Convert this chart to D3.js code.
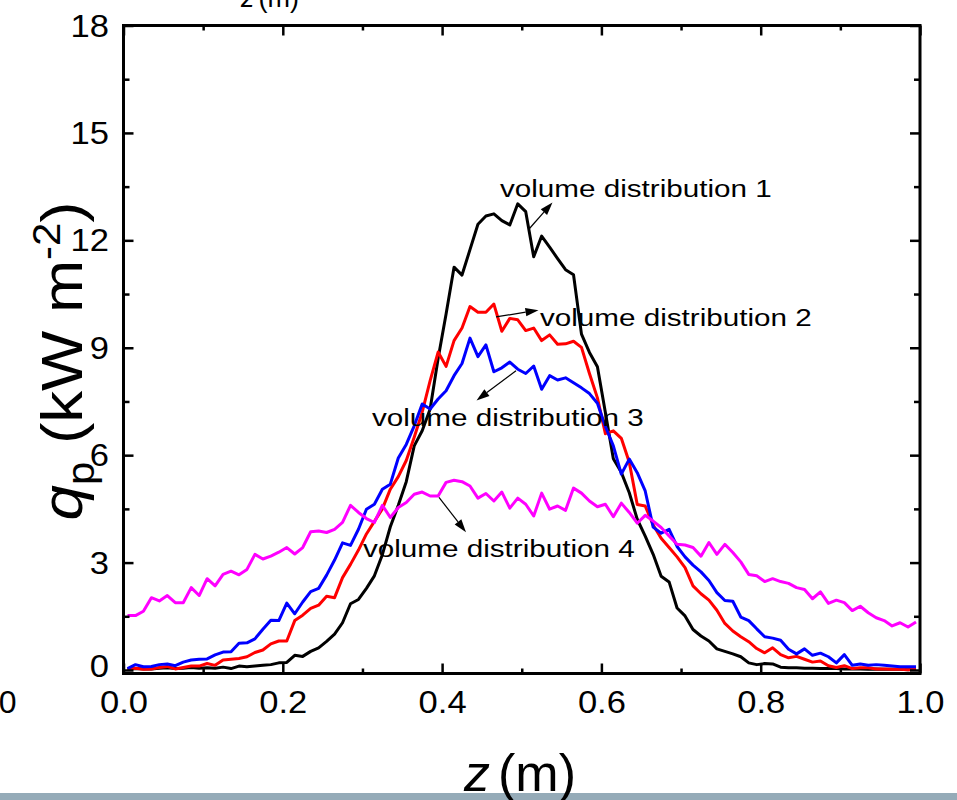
<!DOCTYPE html>
<html>
<head>
<meta charset="utf-8">
<script src="https://cdn.jsdelivr.net/npm/d3@7/dist/d3.min.js"></script>
<style>
  html, body { margin: 0; padding: 0; background: #ffffff; }
  svg { display: block; font-family: Arial, "Liberation Sans", Helvetica, sans-serif; }
</style>
</head>
<body>
<svg id="chart" width="957" height="800"></svg>
<script>
// Heat-flux profiles q_p along z for four volume distributions (0.01 m bins)
const zBins = d3.range(100).map(i => 0.005 + i * 0.01);

const dist1 = [0.02,0.04,0.03,0.03,0.05,0.06,0.04,0.05,0.07,0.05,
  0.06,0.05,0.08,0.04,0.11,0.09,0.11,0.13,0.15,0.20,
  0.21,0.41,0.38,0.52,0.62,0.80,1.00,1.32,1.85,1.97,
  2.28,2.63,3.22,4.00,4.60,5.26,6.26,6.68,7.29,8.70,
  9.94,11.25,11.03,11.74,12.45,12.68,12.74,12.55,12.43,13.02,
  12.80,11.54,12.12,11.81,11.49,11.18,11.04,9.38,8.87,8.47,
  7.19,5.90,5.52,4.95,4.21,3.74,3.23,2.62,2.46,1.73,
  1.51,1.13,0.95,0.81,0.59,0.52,0.45,0.37,0.20,0.15,
  0.18,0.17,0.08,0.06,0.06,0.05,0.05,0.04,0.04,0.04,
  0.03,0.03,0.03,0.02,0.03,0.02,0.02,0.02,0.01,0.02];

const dist2 = [0.02,0.05,0.02,0.03,0.07,0.10,0.03,0.07,0.11,0.11,
  0.18,0.13,0.28,0.30,0.32,0.37,0.49,0.56,0.73,0.81,
  0.81,1.38,1.53,1.72,1.81,2.06,2.02,2.58,2.95,3.35,
  3.80,4.15,4.50,5.05,5.40,5.85,6.50,7.20,8.08,8.88,
  8.48,9.20,9.55,10.15,9.99,9.99,10.22,9.46,9.82,9.78,
  9.48,9.55,9.20,9.36,9.10,9.11,9.18,9.01,8.28,7.60,
  6.60,6.68,6.47,5.80,4.62,4.58,4.05,3.68,3.42,3.16,
  2.86,2.35,2.13,1.95,1.67,1.30,1.09,0.93,0.79,0.60,
  0.48,0.62,0.43,0.34,0.38,0.30,0.22,0.25,0.12,0.07,
  0.12,0.04,0.06,0.06,0.03,0.03,0.02,0.02,0.01,0.02];

const dist3 = [0.04,0.15,0.09,0.10,0.15,0.17,0.12,0.22,0.28,0.30,
  0.31,0.42,0.50,0.51,0.75,0.76,0.87,1.14,1.39,1.38,
  1.87,1.57,1.90,2.19,2.28,2.65,3.07,3.55,3.48,3.93,
  4.49,4.63,5.05,5.19,5.92,6.30,6.82,7.43,7.29,7.57,
  7.80,8.22,8.56,9.27,8.75,9.08,8.33,8.44,8.60,8.40,
  8.28,8.49,7.84,8.22,8.10,8.16,8.02,7.88,7.72,7.45,
  6.80,6.26,5.47,5.89,5.51,5.00,3.99,3.82,3.93,3.45,
  3.16,2.93,2.74,2.50,2.16,1.94,1.92,1.48,1.38,1.15,
  0.93,0.89,0.83,0.58,0.45,0.59,0.41,0.47,0.37,0.20,
  0.43,0.13,0.17,0.13,0.15,0.13,0.11,0.09,0.09,0.09];

const dist4 = [1.52,1.52,1.64,2.02,1.93,2.08,1.88,1.88,2.30,2.08,
  2.55,2.35,2.67,2.76,2.66,2.81,3.23,3.10,3.18,3.29,
  3.42,3.24,3.42,3.86,3.88,3.84,3.93,4.12,4.60,4.40,
  4.23,4.12,4.60,4.26,4.54,4.68,4.91,4.97,4.86,4.86,
  5.24,5.30,5.26,5.14,4.80,4.93,4.72,4.97,4.52,4.80,
  4.63,4.30,4.94,4.49,4.58,4.46,5.08,4.94,4.72,4.56,
  4.63,4.28,4.66,4.40,4.10,4.32,4.16,3.98,3.74,3.51,
  3.49,3.42,3.18,3.56,3.23,3.51,3.28,3.02,2.67,2.63,
  2.47,2.55,2.47,2.42,2.30,2.25,1.99,2.18,1.86,1.95,
  1.88,1.66,1.78,1.60,1.46,1.38,1.23,1.32,1.20,1.34];

const seriesNames = ["volume distribution 1", "volume distribution 2",
                     "volume distribution 3", "volume distribution 4"];
const seriesColors = ["#000000", "#ff0000", "#0000ff", "#ff00ff"];

const xMajorTicks = [0, 0.2, 0.4, 0.6, 0.8, 1.0];
const xMinorTicks = [0.1, 0.3, 0.5, 0.7, 0.9];
const yMajorTicks = [0, 3, 6, 9, 12, 15, 18];
const yMinorTicks = [1.5, 4.5, 7.5, 10.5, 13.5, 16.5];

// Label anchors (text start + arrow tail -> arrow head), in data units
const labelPos = [
  { tz: 0.4727, tq: 13.22, az0: 0.5097, aq0: 12.33, az1: 0.5386, aq1: 13.06 },
  { tz: 0.5229, tq: 9.61,  az0: 0.4677, aq0: 9.86,  az1: 0.5210, aq1: 10.05 },
  { tz: 0.3120, tq: 6.81,  az0: 0.4928, aq0: 8.36,  az1: 0.4432, aq1: 7.53 },
  { tz: 0.3007, tq: 3.16,  az0: 0.3961, aq0: 4.82,  az1: 0.4300, aq1: 3.85 }
];

const svg = d3.select("#chart");
const frameLeft = 123.5, frameRight = 920, frameTop = 25.5, frameBottom = 673.5;

const x = d3.scaleLinear().domain([0, 1]).range([frameLeft, frameRight]);
const y = d3.scaleLinear().domain([0, 18]).range([670, frameTop]);

// strip along the bottom edge
svg.append("rect").attr("x", 0).attr("y", 793).attr("width", 957).attr("height", 7)
  .attr("fill", "#95abb8");

// data lines
const line = d3.line().x((d, i) => x(zBins[i])).y(d => y(d));
[dist1, dist2, dist3, dist4].forEach((s, i) => {
  svg.append("path").datum(s)
    .attr("d", line)
    .attr("fill", "none")
    .attr("stroke", seriesColors[i])
    .attr("stroke-width", 3)
    .attr("stroke-linejoin", "round");
});

// axes: inward ticks on all four sides
function styleAxis(g) {
  g.select(".domain").remove();
  g.selectAll(".tick line").attr("stroke", "#000").attr("stroke-width", 2.5);
}
const tickFont = 32;

const gBottom = svg.append("g").attr("transform", `translate(0,${frameBottom})`)
  .call(d3.axisBottom(x).tickValues(xMajorTicks).tickSize(-10).tickPadding(17)
    .tickFormat(d3.format(".1f")));
styleAxis(gBottom);
gBottom.selectAll("text").attr("font-size", tickFont).attr("fill", "#000")
  .attr("font-family", "Arial, 'Liberation Sans', sans-serif")
  .attr("transform", "scale(1.08,1)");

svg.append("g").attr("transform", `translate(0,${frameBottom})`)
  .call(d3.axisBottom(x).tickValues(xMinorTicks).tickSize(-5).tickFormat(""))
  .call(styleAxis);

svg.append("g").attr("transform", `translate(0,${frameTop})`)
  .call(d3.axisTop(x).tickValues(xMajorTicks).tickSize(-10).tickFormat(""))
  .call(styleAxis);
svg.append("g").attr("transform", `translate(0,${frameTop})`)
  .call(d3.axisTop(x).tickValues(xMinorTicks).tickSize(-5).tickFormat(""))
  .call(styleAxis);

const gLeft = svg.append("g").attr("transform", `translate(${frameLeft},0)`)
  .call(d3.axisLeft(y).tickValues(yMajorTicks).tickSize(-10).tickPadding(13.5)
    .tickFormat(d3.format("d")));
styleAxis(gLeft);
gLeft.selectAll("text").attr("font-size", tickFont).attr("fill", "#000")
  .attr("font-family", "Arial, 'Liberation Sans', sans-serif")
  .attr("transform", "scale(1.08,1)")
  .attr("dy", d => d === 0 ? "0.2em" : "0.33em");

svg.append("g").attr("transform", `translate(${frameLeft},0)`)
  .call(d3.axisLeft(y).tickValues(yMinorTicks).tickSize(-6).tickFormat(""))
  .call(styleAxis);
svg.append("g").attr("transform", `translate(${frameRight},0)`)
  .call(d3.axisRight(y).tickValues(yMajorTicks).tickSize(-10).tickFormat(""))
  .call(styleAxis);
svg.append("g").attr("transform", `translate(${frameRight},0)`)
  .call(d3.axisRight(y).tickValues(yMinorTicks).tickSize(-6).tickFormat(""))
  .call(styleAxis);

// plot frame
svg.append("rect").attr("x", frameLeft).attr("y", frameTop)
  .attr("width", frameRight - frameLeft).attr("height", frameBottom - frameTop)
  .attr("fill", "none").attr("stroke", "#000").attr("stroke-width", 3);

// series labels with arrows
labelPos.forEach((p, i) => {
  svg.append("text")
    .attr("transform", `translate(${x(p.tz)},${y(p.tq)}) scale(1.2,1)`)
    .attr("font-size", 24.7).attr("fill", "#000")
    .text(seriesNames[i]);

  const x0 = x(p.az0), y0 = y(p.aq0), x1 = x(p.az1), y1 = y(p.aq1);
  const ang = Math.atan2(y1 - y0, x1 - x0);
  const len = 13, hw = 4.2;
  const bx = x1 - len * Math.cos(ang), by = y1 - len * Math.sin(ang);
  svg.append("line").attr("x1", x0).attr("y1", y0).attr("x2", bx).attr("y2", by)
    .attr("stroke", "#000").attr("stroke-width", 1.2);
  svg.append("path")
    .attr("d", `M${x1},${y1}L${bx + hw * Math.sin(ang)},${by - hw * Math.cos(ang)}` +
               `L${bx - hw * Math.sin(ang)},${by + hw * Math.cos(ang)}Z`)
    .attr("fill", "#000");
});

// y axis title: q_p (kW m^-2)
const yTitle = svg.append("text")
  .attr("transform", "translate(82,361) rotate(-90) scale(1.1,1)")
  .attr("text-anchor", "middle").attr("font-size", 58).attr("fill", "#000");
yTitle.append("tspan").attr("font-style", "italic").text("q");
yTitle.append("tspan").attr("font-size", 38).attr("dy", 12).text("p");
yTitle.append("tspan").attr("dy", -12).text(" (kW m");
yTitle.append("tspan").attr("font-size", 38).attr("dy", -22).text("-2");
yTitle.append("tspan").attr("dy", 22).text(")");

// x axis title: z (m)
const xTitle = svg.append("text").attr("x", 464).attr("y", 791)
  .attr("font-size", 52).attr("fill", "#000");
xTitle.append("tspan").attr("font-style", "italic").text("z");
xTitle.append("tspan").attr("dx", 8).text("(m)");

// neighbouring panel's axis title at the top edge
const topTitle = svg.append("text").attr("x", 241).attr("y", 7)
  .attr("font-size", 27).attr("fill", "#000");
topTitle.append("tspan").attr("font-style", "italic").text("z");
topTitle.append("tspan").attr("dx", 4).text("(m)");

// neighbouring panel's last x tick label at the left edge
svg.append("text").attr("x", 16.5).attr("y", 713).attr("text-anchor", "end")
  .attr("font-size", tickFont).attr("fill", "#000").text("0");
</script>
</body>
</html>
